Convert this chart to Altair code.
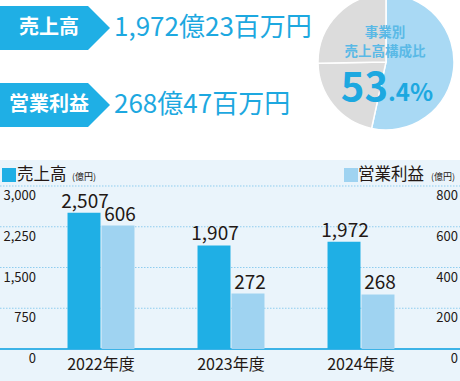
import altair as alt
import pandas as pd

# ---- data ----
years = ["2022年度", "2023年度", "2024年度"]
sales = [2507, 1907, 1972]
profit = [606, 272, 268]
series_names = ["売上高", "営業利益"]
sales_ticks = [0, 750, 1500, 2250, 3000]
profit_ticks = [0, 200, 400, 600, 800]
segments = ["当事業", "その他A", "その他B"]
shares = [53.4, 21.3, 25.3]
headline_labels = ["売上高", "営業利益"]
headline_values = ["1,972億23百万円", "268億47百万円"]
pie_title = ["事業別", "売上高構成比"]
unit = "(億円)"

# ---- styles ----
BLUE = "#1fafe5"
LIGHT = "#9fd3f1"
TXT = "#231815"
HEAD = "#1da8e0"
FONT = "Noto Sans CJK JP"
CHEVRON = "M-1,-0.4L0.6,-0.4L1,0L0.6,0.4L-1,0.4Z"

dummy = pd.DataFrame({"k": [0]})
sales_df = pd.DataFrame({"year": years, "series": series_names[0], "value": sales})
profit_df = pd.DataFrame({"year": years, "series": series_names[1], "value": profit})
stick_df = pd.DataFrame({"tick": sales_ticks})
ptick_df = pd.DataFrame({"tick": profit_ticks})
pie_df = pd.DataFrame({"segment": segments, "share": shares, "ord": list(range(len(shares)))})
head_df = pd.DataFrame({"label": headline_labels, "value": headline_values})

x_scale = alt.Scale(domain=years, range=[36, 426], paddingInner=0.485, paddingOuter=0.2425)
xo_scale = alt.Scale(domain=series_names, paddingInner=0.03)
ys = alt.Scale(domain=[0, 3000], range=[349, 186])
yp = alt.Scale(domain=[0, 800], range=[349, 186])
yh = alt.Scale(domain=headline_labels, range=[28, 105], padding=0)

X = alt.X("year:N", scale=x_scale, axis=None)
XO = alt.XOffset("series:N", scale=xo_scale)

panel = alt.Chart(dummy).mark_rect(color="#eaf4fb").encode(
    x=alt.value(0), x2=alt.value(460), y=alt.value(160), y2=alt.value(381))

grid = alt.Chart(stick_df).transform_filter("datum.tick > 0").mark_rule(
    color="#8fcdef", strokeDash=[1.5, 1.5], strokeWidth=1).encode(
    y=alt.Y("tick:Q", scale=ys, axis=None), x=alt.value(0), x2=alt.value(460))

baseline = alt.Chart(stick_df).transform_filter("datum.tick == 0").mark_rule(
    color="#3db3e7", strokeWidth=2).encode(
    y=alt.Y("tick:Q", scale=ys, axis=None), x=alt.value(0), x2=alt.value(460))

left_labels = alt.Chart(stick_df).mark_text(
    font=FONT, fontSize=13, color=TXT, align="right", baseline="middle", dy=10).encode(
    y=alt.Y("tick:Q", scale=ys, axis=None), x=alt.value(36), text=alt.Text("tick:Q", format=","))

right_labels = alt.Chart(ptick_df).mark_text(
    font=FONT, fontSize=13, color=TXT, align="right", baseline="middle", dy=10).encode(
    y=alt.Y("tick:Q", scale=yp, axis=None), x=alt.value(458), text=alt.Text("tick:Q", format=","))

bars_s = alt.Chart(sales_df).mark_bar(color=BLUE).encode(
    x=X, xOffset=XO, y=alt.Y("value:Q", scale=ys, axis=None))
bars_p = alt.Chart(profit_df).mark_bar(color=LIGHT).encode(
    x=X, xOffset=XO, y=alt.Y("value:Q", scale=yp, axis=None))

val_s = alt.Chart(sales_df).mark_text(
    font=FONT, fontSize=19, color=TXT, baseline="alphabetic", dy=-5, dx=1).encode(
    x=X, xOffset=XO, y=alt.Y("value:Q", scale=ys, axis=None), text=alt.Text("value:Q", format=","))
val_p = alt.Chart(profit_df).mark_text(
    font=FONT, fontSize=19, color=TXT, baseline="alphabetic", dy=-5, dx=2).encode(
    x=X, xOffset=XO, y=alt.Y("value:Q", scale=yp, axis=None), text=alt.Text("value:Q", format=","))

cat_labels = alt.Chart(sales_df).mark_text(
    font=FONT, fontSize=16, color=TXT, baseline="middle").encode(
    x=X, y=alt.value(365), text="year:N")

# legend
leg_sq_s = alt.Chart(dummy).mark_square(size=196, color=BLUE, opacity=1).encode(
    x=alt.value(9), y=alt.value(175))
leg_sq_p = alt.Chart(dummy).mark_square(size=196, color=LIGHT, opacity=1).encode(
    x=alt.value(351), y=alt.value(175))
leg_t_s = alt.Chart(dummy).mark_text(text=series_names[0], font=FONT, fontSize=16.5, color=TXT,
                                     align="left", baseline="middle").encode(x=alt.value(17), y=alt.value(175))
leg_u_s = alt.Chart(dummy).mark_text(text=unit, font=FONT, fontSize=9, color=TXT,
                                     align="left", baseline="middle").encode(x=alt.value(72), y=alt.value(177))
leg_t_p = alt.Chart(dummy).mark_text(text=series_names[1], font=FONT, fontSize=16.5, color=TXT,
                                     align="left", baseline="middle").encode(x=alt.value(358), y=alt.value(175))
leg_u_p = alt.Chart(dummy).mark_text(text=unit, font=FONT, fontSize=9, color=TXT,
                                     align="left", baseline="middle").encode(x=alt.value(431), y=alt.value(177))

# headline
chev = alt.Chart(head_df).mark_point(shape=CHEVRON, size=12100, filled=True, color=BLUE,
                                     opacity=1, strokeWidth=0).encode(
    x=alt.value(55), y=alt.Y("label:N", scale=yh, axis=None))
chev_t = alt.Chart(head_df).mark_text(font=FONT, fontSize=20, fontWeight="bold", color="white",
                                      baseline="middle").encode(
    x=alt.value(49), y=alt.Y("label:N", scale=yh, axis=None), text="label:N")
head_v = alt.Chart(head_df).mark_text(font=FONT, fontSize=26, color=HEAD, align="left",
                                      baseline="middle").encode(
    x=alt.value(114), y=alt.Y("label:N", scale=yh, axis=None), text="value:N")

# pie
pie_shadow = alt.Chart(dummy).mark_circle(size=15500, color="#c6c6c6", opacity=1).encode(
    x=alt.value(386), y=alt.value(62))
pie = alt.Chart(pie_df).mark_arc(outerRadius=68, stroke="white", strokeWidth=1.5).encode(
    theta=alt.Theta("share:Q", stack=True),
    order=alt.Order("ord:Q"),
    color=alt.Color("segment:N", scale=alt.Scale(domain=segments, range=["#a9d9f4", "#dcdcdc", "#dcdcdc"]),
                    legend=None),
    x=alt.value(386), y=alt.value(62))
pct = f"{shares[0]:.1f}".split(".")
pie_t1 = alt.Chart(dummy).mark_text(text=pie_title[0], font=FONT, fontSize=13.5, fontWeight="bold",
                                    color="#5ab9e6", baseline="middle").encode(x=alt.value(385), y=alt.value(33))
pie_t2 = alt.Chart(dummy).mark_text(text=pie_title[1], font=FONT, fontSize=13.5, fontWeight="bold",
                                    color="#5ab9e6", baseline="middle").encode(x=alt.value(385), y=alt.value(52))
pie_big = alt.Chart(dummy).mark_text(text=pct[0], font=FONT, fontSize=40, fontWeight="bold", color=HEAD,
                                     align="right", baseline="alphabetic").encode(x=alt.value(388), y=alt.value(101))
pie_small = alt.Chart(dummy).mark_text(text="." + pct[1] + "%", font=FONT, fontSize=24, fontWeight="bold",
                                       color=HEAD, align="left", baseline="alphabetic").encode(
    x=alt.value(388), y=alt.value(101))

chart = alt.layer(
    panel, grid, baseline, left_labels, right_labels, bars_s, bars_p, val_s, val_p, cat_labels,
    leg_sq_s, leg_sq_p, leg_t_s, leg_u_s, leg_t_p, leg_u_p,
    chev, chev_t, head_v, pie_shadow, pie, pie_t1, pie_t2, pie_big, pie_small,
).resolve_scale(y="independent").properties(
    width=460, height=381, padding=0, autosize=alt.AutoSizeParams(type="none"),
    background="white",
).configure_view(strokeWidth=0)

chart.save("out.html", embed_options={"renderer": "svg", "actions": False})
